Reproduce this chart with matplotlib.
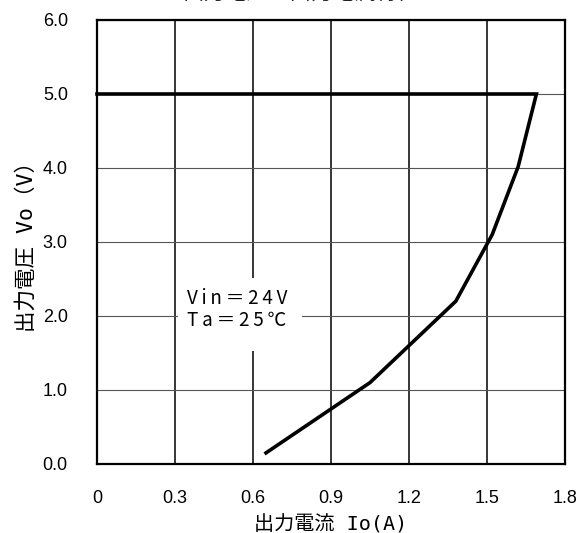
import matplotlib
matplotlib.use("Agg")
import matplotlib.pyplot as plt
from matplotlib.patches import Rectangle

# Data
current_a = [0.0, 1.69, 1.62, 1.52, 1.38, 1.05, 0.65]
voltage_v = [5.0, 5.0, 4.02, 3.1, 2.2, 1.1, 0.15]
x_ticks = [0, 0.3, 0.6, 0.9, 1.2, 1.5, 1.8]
x_labels = ["0", "0.3", "0.6", "0.9", "1.2", "1.5", "1.8"]
y_ticks = [0, 1, 2, 3, 4, 5, 6]
y_labels = ["0.0", "1.0", "2.0", "3.0", "4.0", "5.0", "6.0"]
title = "出力電圧－出力電流特性"
xlabel = "出力電流 Io(A)"
ylabel = "出力電圧 Vo（V）"
note_lines = ["Vin＝24V", "Ta＝25℃"]

JP = ["Noto Sans CJK JP", "DejaVu Sans"]
MONO_JP = ["DejaVu Sans Mono", "Noto Sans CJK JP", "DejaVu Sans"]
NUM = ["Liberation Sans", "DejaVu Sans"]

fig = plt.figure(figsize=(5.79, 5.33), dpi=100)
ax = fig.add_axes([97/579, 69/533, 468/579, 444/533])

ax.set_xlim(0, 1.8)
ax.set_ylim(0, 6)
ax.set_xticks(x_ticks)
ax.set_xticklabels(x_labels, fontfamily=NUM, fontsize=13)
ax.set_yticks(y_ticks)
ax.set_yticklabels(y_labels, fontfamily=NUM, fontsize=13)
ax.tick_params(axis="both", length=0)
ax.tick_params(axis="x", pad=18.5)
ax.tick_params(axis="y", pad=21)

for s in ax.spines.values():
    s.set_linewidth(1.6)
    s.set_color("black")

ax.xaxis.grid(True, color="black", linewidth=1.1)
ax.yaxis.grid(True, color="#555555", linewidth=0.8)
ax.set_axisbelow(True)

ax.add_patch(Rectangle((0.31, 1.53), 0.48, 0.98, facecolor="white",
                       edgecolor="none", zorder=1.5))
note = "\n".join("\u2009".join(line) for line in note_lines)
ax.text(0.345, 2.09, note, fontfamily=JP, fontsize=13.5, va="center",
        ha="left", linespacing=1.05, zorder=3)

ax.plot(current_a, voltage_v, color="black", linewidth=2.6,
        solid_joinstyle="miter", zorder=4, clip_on=False)

ax.set_xlabel(xlabel, fontfamily=MONO_JP, fontsize=14.5, labelpad=6)
ax.set_ylabel(ylabel, fontfamily=MONO_JP, fontsize=15.5, labelpad=4)

fig.text(301/579, 1.0 + 1/533, title, fontfamily=JP, fontsize=15.5,
         ha="center", va="baseline", color="#222222")

fig.savefig("out.png", dpi=100)
